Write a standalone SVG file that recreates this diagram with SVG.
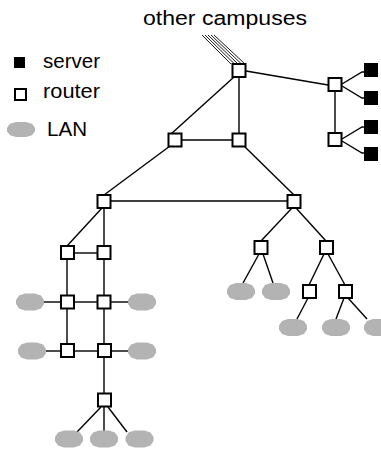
<svg xmlns="http://www.w3.org/2000/svg" xmlns:xlink="http://www.w3.org/1999/xlink" width="381" height="449" viewBox="0 0 381 449">
<style>
.bg{fill:#ffffff}
.lbl{font-family:"Liberation Sans",Arial,sans-serif;font-size:20px;fill:#000}
.edge{stroke:#000;stroke-width:1.4;fill:none}
.hatch{stroke:#000;stroke-width:0.9;fill:none}
.router{fill:#fff;stroke:#000;stroke-width:2}
.server{fill:#000}
.lan{fill:#b3b3b3}
</style>
<defs>
<path id="lanShape" d="M-14,-2 L-11,-6.5 L-5,-8.5 L5,-8.5 L11,-6.5 L14,-2 L14,2 L11,6.5 L5,8.5 L-5,8.5 L-11,6.5 L-14,2 Z"/>
</defs>
<rect class="bg" x="0" y="0" width="381" height="449"/>

<g id="legend">
  <rect class="server" x="14" y="57" width="11" height="11"/>
  <text class="lbl" x="43" y="68" textLength="57" lengthAdjust="spacingAndGlyphs">server</text>
  <rect class="router" x="15" y="89" width="11" height="11"/>
  <text class="lbl" x="43" y="98" textLength="57" lengthAdjust="spacingAndGlyphs">router</text>
  <use class="lan" xlink:href="#lanShape" href="#lanShape" transform="translate(21,129.5) scale(1,0.88)"/>
  <text class="lbl" x="47" y="136" textLength="40" lengthAdjust="spacingAndGlyphs">LAN</text>
</g>

<g id="title">
  <text class="lbl" x="143" y="25" textLength="164" lengthAdjust="spacingAndGlyphs">other campuses</text>
</g>

<g id="connectors">
  <line class="hatch" x1="202" y1="35" x2="231" y2="64"/>
  <line class="hatch" x1="205" y1="35" x2="234.5" y2="64"/>
  <line class="hatch" x1="208" y1="35" x2="238" y2="64"/>
  <line class="hatch" x1="211" y1="35" x2="241.5" y2="64"/>
  <line class="hatch" x1="214" y1="35" x2="245" y2="64"/>

  <line class="edge" x1="246" y1="71" x2="328" y2="85"/>
  <line class="edge" x1="234" y1="77" x2="171" y2="134"/>
  <line class="edge" x1="239" y1="77" x2="239" y2="133"/>
  <line class="edge" x1="182" y1="140" x2="232" y2="140"/>
  <line class="edge" x1="170" y1="146" x2="104" y2="195"/>
  <line class="edge" x1="244" y1="146" x2="294" y2="195"/>
  <line class="edge" x1="111" y1="201" x2="287" y2="201"/>
  <line class="edge" x1="102" y1="208" x2="67" y2="246"/>
  <line class="edge" x1="104" y1="208" x2="104" y2="246"/>
  <line class="edge" x1="74" y1="253" x2="98" y2="253"/>
  <line class="edge" x1="292" y1="208" x2="261" y2="241"/>
  <line class="edge" x1="296" y1="208" x2="326" y2="241"/>
  <line class="edge" x1="259" y1="254" x2="243" y2="283"/>
  <line class="edge" x1="263" y1="254" x2="273" y2="283"/>
  <line class="edge" x1="324" y1="254" x2="309" y2="285"/>
  <line class="edge" x1="328" y1="254" x2="345" y2="285"/>
  <line class="edge" x1="308" y1="298" x2="297" y2="319"/>
  <line class="edge" x1="344" y1="298" x2="336" y2="319"/>
  <line class="edge" x1="348" y1="298" x2="367" y2="319"/>

  <line class="edge" x1="335" y1="91" x2="335" y2="133"/>
  <polyline class="edge" points="342,84 362,72 364,72"/>
  <polyline class="edge" points="342,86 362,98 364,98"/>
  <polyline class="edge" points="342,139 362,127 364,127"/>
  <polyline class="edge" points="342,141 362,153 364,153"/>

  <line class="edge" x1="67" y1="259" x2="67" y2="296"/>
  <line class="edge" x1="104" y1="259" x2="104" y2="296"/>
  <line class="edge" x1="44" y1="302" x2="61" y2="302"/>
  <line class="edge" x1="74" y1="302" x2="98" y2="302"/>
  <line class="edge" x1="111" y1="302" x2="128" y2="302"/>
  <line class="edge" x1="67" y1="308" x2="67" y2="344"/>
  <line class="edge" x1="104" y1="308" x2="104" y2="344"/>
  <line class="edge" x1="46" y1="351" x2="61" y2="351"/>
  <line class="edge" x1="74" y1="351" x2="98" y2="351"/>
  <line class="edge" x1="111" y1="351" x2="128" y2="351"/>
  <line class="edge" x1="104" y1="357" x2="104" y2="393"/>
  <line class="edge" x1="101" y1="407" x2="77" y2="432"/>
  <line class="edge" x1="104" y1="407" x2="104" y2="431"/>
  <line class="edge" x1="108" y1="407" x2="127" y2="432"/>
</g>

<g id="r0"><rect class="router" x="232.5" y="64" width="13" height="13"/></g>
<g id="r1"><rect class="router" x="328.5" y="78" width="13" height="13"/></g>
<g id="r2"><rect class="router" x="328.5" y="133" width="13" height="13"/></g>
<g id="r3"><rect class="router" x="168.5" y="133.5" width="13" height="13"/></g>
<g id="r4"><rect class="router" x="232.5" y="133.5" width="13" height="13"/></g>
<g id="r5"><rect class="router" x="97.5" y="195" width="13" height="13"/></g>
<g id="r6"><rect class="router" x="287.5" y="195" width="13" height="13"/></g>
<g id="r7"><rect class="router" x="61" y="246" width="13" height="13"/></g>
<g id="r8"><rect class="router" x="97.5" y="246" width="13" height="13"/></g>
<g id="r9"><rect class="router" x="254.5" y="241" width="13" height="13"/></g>
<g id="r10"><rect class="router" x="320" y="241" width="13" height="13"/></g>
<g id="r11"><rect class="router" x="61" y="295.5" width="13" height="13"/></g>
<g id="r12"><rect class="router" x="97.5" y="295.5" width="13" height="13"/></g>
<g id="r13"><rect class="router" x="303" y="285" width="13" height="13"/></g>
<g id="r14"><rect class="router" x="339" y="285" width="13" height="13"/></g>
<g id="r15"><rect class="router" x="61" y="344" width="13" height="13"/></g>
<g id="r16"><rect class="router" x="98" y="344" width="13" height="13"/></g>
<g id="r17"><rect class="router" x="98" y="393.5" width="13" height="13"/></g>

<g id="s1"><rect class="server" x="364" y="63" width="14" height="14"/></g>
<g id="s2"><rect class="server" x="364" y="91" width="14" height="14"/></g>
<g id="s3"><rect class="server" x="364" y="120" width="14" height="14"/></g>
<g id="s4"><rect class="server" x="364" y="147" width="14" height="14"/></g>

<g id="lan1"><use class="lan" xlink:href="#lanShape" href="#lanShape" x="241" y="291.5"/></g>
<g id="lan2"><use class="lan" xlink:href="#lanShape" href="#lanShape" x="276" y="291.5"/></g>
<g id="lan3"><use class="lan" xlink:href="#lanShape" href="#lanShape" x="293" y="327.5"/></g>
<g id="lan4"><use class="lan" xlink:href="#lanShape" href="#lanShape" x="336" y="327.5"/></g>
<g id="lan5"><use class="lan" xlink:href="#lanShape" href="#lanShape" x="378" y="327.5"/></g>
<g id="lan6"><use class="lan" xlink:href="#lanShape" href="#lanShape" x="30" y="302"/></g>
<g id="lan7"><use class="lan" xlink:href="#lanShape" href="#lanShape" x="142" y="302"/></g>
<g id="lan8"><use class="lan" xlink:href="#lanShape" href="#lanShape" x="32" y="351"/></g>
<g id="lan9"><use class="lan" xlink:href="#lanShape" href="#lanShape" x="142" y="351"/></g>
<g id="lan10"><use class="lan" xlink:href="#lanShape" href="#lanShape" x="69" y="439"/></g>
<g id="lan11"><use class="lan" xlink:href="#lanShape" href="#lanShape" x="104" y="439"/></g>
<g id="lan12"><use class="lan" xlink:href="#lanShape" href="#lanShape" x="139.5" y="439"/></g>
</svg>
